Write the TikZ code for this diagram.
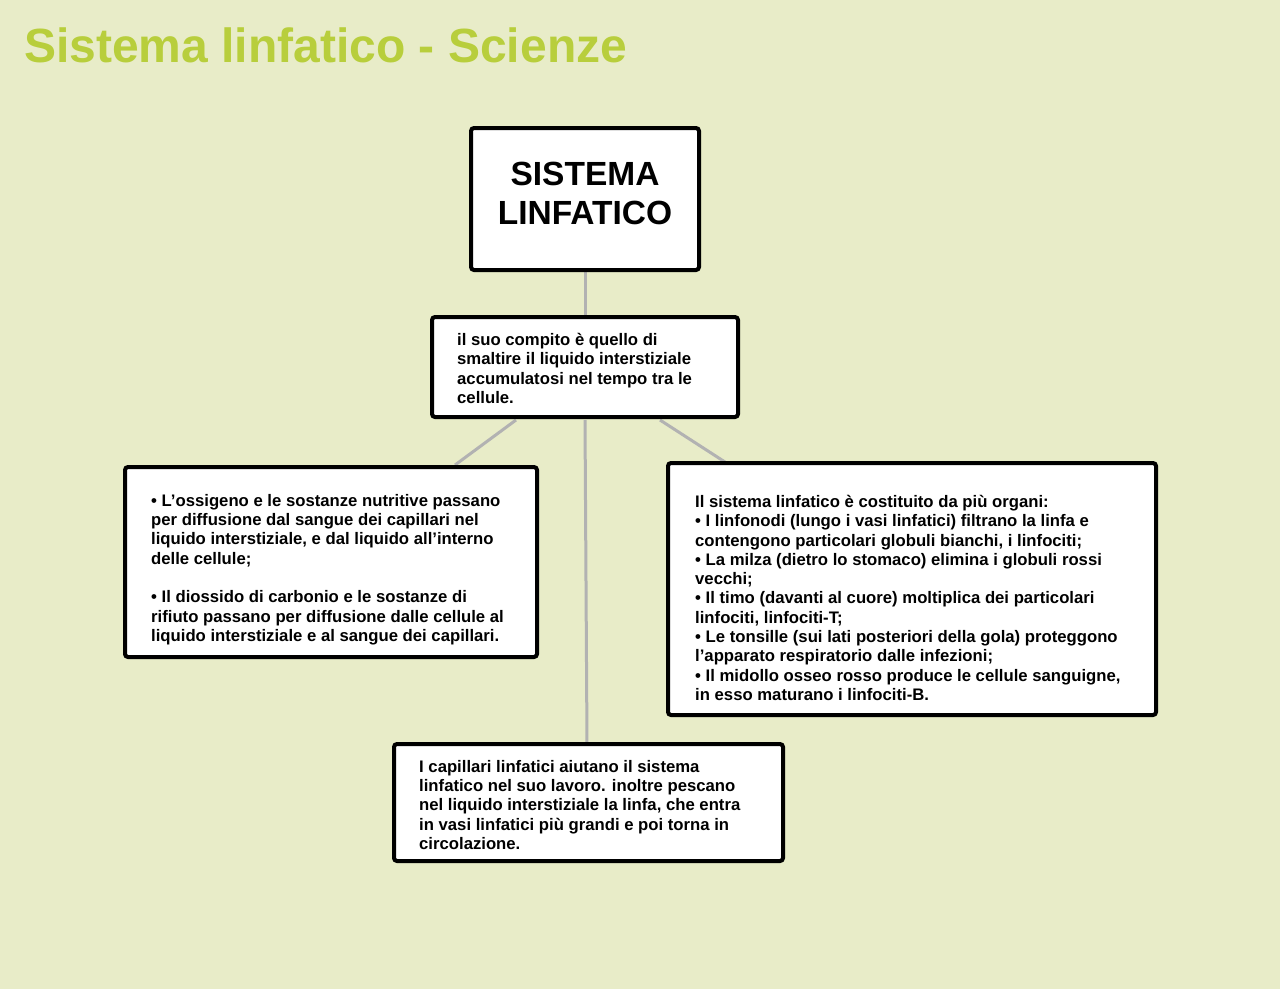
\documentclass[tikz,border=0pt]{standalone}
\usepackage{fontspec}
\setmainfont{Liberation Sans}
\begin{document}
\begin{tikzpicture}[x=1pt,y=-1pt,
  box/.style={draw=black,line width=4pt,rounded corners=3pt,fill=white},
  body/.style={anchor=north west,inner sep=0pt,align=left,font=\bfseries\fontsize{16.7}{19.3}\selectfont},
  link/.style={draw=black!30,line width=3pt}]
\fill[fill={rgb,255:red,232;green,236;blue,200}] (0,0) rectangle (1280,989);
\useasboundingbox (0,0) rectangle (1280,989);
\node[anchor=west,inner sep=0pt,text={rgb,255:red,184;green,206;blue,60},font=\bfseries\fontsize{48}{54}\selectfont] (title) at (24,45) {Sistema linfatico - Scienze};
% connectors
\coordinate (a1) at (585,270); \coordinate (b1) at (585,317);
\coordinate (b2) at (516,420); \coordinate (c1) at (455,465);
\coordinate (b3) at (660,420); \coordinate (d1) at (725,462);
\coordinate (b4) at (585,420); \coordinate (e1) at (587,744);
\draw[link] (a1) -- (b1);
\draw[link] (b2) -- (c1);
\draw[link] (b3) -- (d1);
\draw[link] (b4) -- (e1);
% boxes
\draw[box] (471,128) rectangle (699,270);
\node[align=center,inner sep=0pt,font=\bfseries\fontsize{33.5}{39}\selectfont] (A) at (585,193) {SISTEMA\\LINFATICO};
\draw[box] (432,317) rectangle (738,417);
\node[body] (B) at (457,333) {il suo compito è quello di\\smaltire il liquido interstiziale\\accumulatosi nel tempo tra le\\cellule.};
\draw[box] (125,467) rectangle (537,657);
\node[body] (C) at (151,494) {• L’ossigeno e le sostanze nutritive passano\\per diffusione dal sangue dei capillari nel\\liquido interstiziale, e dal liquido all’interno\\delle cellule;\\[19.3pt]• Il diossido di carbonio e le sostanze di\\rifiuto passano per diffusione dalle cellule al\\liquido interstiziale e al sangue dei capillari.};
\draw[box] (668,463) rectangle (1156,715);
\node[body] (D) at (695,495) {Il sistema linfatico è costituito da più organi:\\• I linfonodi (lungo i vasi linfatici) filtrano la linfa e\\contengono particolari globuli bianchi, i linfociti;\\• La milza (dietro lo stomaco) elimina i globuli rossi\\vecchi;\\• Il timo (davanti al cuore) moltiplica dei particolari\\linfociti, linfociti-T;\\• Le tonsille (sui lati posteriori della gola) proteggono\\l’apparato respiratorio dalle infezioni;\\• Il midollo osseo rosso produce le cellule sanguigne,\\in esso maturano i linfociti-B.};
\draw[box] (394,744) rectangle (783,861);
\node[body] (E) at (419,760) {I capillari linfatici aiutano il sistema\\linfatico nel suo lavoro. inoltre pescano\\nel liquido interstiziale la linfa, che entra\\in vasi linfatici più grandi e poi torna in\\circolazione.};
\end{tikzpicture}
\end{document}
